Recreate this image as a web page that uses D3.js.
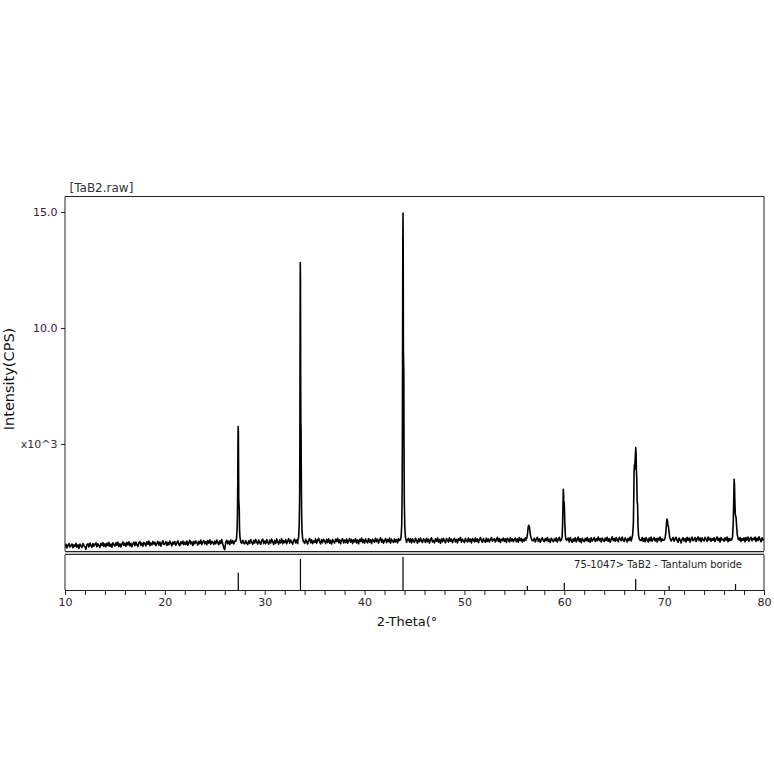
<!DOCTYPE html>
<html>
<head>
<meta charset="utf-8">
<script src="https://cdn.jsdelivr.net/npm/d3@7"></script>
<style>
  html, body { margin: 0; padding: 0; background: #fff; }
  svg { display: block; }
  text { font-family: "DejaVu Sans", sans-serif; }
</style>
</head>
<body>
<svg id="chart" width="774" height="774"></svg>
<script>
// ---------------- DATA ----------------
const scanTitle = "[TaB2.raw]";
const refLabel = "75-1047> TaB2 - Tantalum boride";
const xAxisTitle = "2-Theta(°";
const yAxisTitle = "Intensity(CPS)";

const scanStart = 10.0;   // degrees 2-theta
const scanStep = 0.1;     // degrees between baseline samples

// background counts (x10^3 CPS), one row per degree, 10.0 .. 80.0
const baselineCounts = [
  0.55,0.68,0.52,0.64,0.71,0.56,0.62,0.69,0.53,0.66,
  0.58,0.72,0.55,0.66,0.50,0.69,0.61,0.54,0.71,0.63,
  0.57,0.46,0.67,0.70,0.56,0.73,0.62,0.55,0.71,0.60,
  0.68,0.74,0.57,0.70,0.62,0.54,0.72,0.63,0.75,0.58,
  0.70,0.57,0.73,0.62,0.76,0.59,0.69,0.55,0.74,0.66,
  0.60,0.75,0.64,0.77,0.58,0.70,0.56,0.68,0.78,0.63,
  0.73,0.59,0.76,0.65,0.79,0.61,0.72,0.57,0.70,0.77,
  0.62,0.78,0.66,0.58,0.75,0.80,0.63,0.73,0.59,0.76,
  0.71,0.61,0.79,0.68,0.82,0.62,0.74,0.65,0.80,0.69,
  0.77,0.62,0.72,0.81,0.64,0.78,0.60,0.73,0.83,0.67,
  0.70,0.80,0.63,0.76,0.66,0.82,0.72,0.61,0.78,0.69,
  0.80,0.64,0.74,0.83,0.67,0.62,0.79,0.70,0.82,0.66,
  0.77,0.67,0.82,0.64,0.75,0.85,0.69,0.79,0.63,0.80,
  0.70,0.83,0.75,0.65,0.81,0.71,0.86,0.67,0.77,0.84,
  0.70,0.80,0.66,0.84,0.73,0.87,0.68,0.81,0.76,0.67,
  0.82,0.70,0.86,0.74,0.66,0.83,0.72,0.88,0.69,0.52,
  0.45,0.78,0.85,0.70,0.82,0.67,0.87,0.73,0.84,0.69,
  0.80,0.86,0.71,0.84,0.76,0.89,0.79,0.72,0.85,0.74,
  0.70,0.84,0.73,0.67,0.83,0.72,0.88,0.76,0.68,0.85,
  0.73,0.89,0.77,0.69,0.86,0.75,0.68,0.84,0.90,0.71,
  0.82,0.70,0.88,0.76,0.69,0.86,0.73,0.90,0.79,0.67,
  0.85,0.72,0.91,0.77,0.69,0.86,0.74,0.92,0.70,0.84,
  0.75,0.88,0.70,0.82,0.92,0.73,0.86,0.77,0.68,0.85,
  0.90,0.74,0.86,0.71,0.88,0.79,0.89,0.76,0.86,0.80,
  0.72,0.89,0.78,0.69,0.86,0.93,0.74,0.87,0.71,0.83,
  0.76,0.91,0.72,0.85,0.94,0.78,0.70,0.88,0.75,0.90,
  0.82,0.71,0.89,0.76,0.92,0.73,0.85,0.69,0.88,0.79,
  0.73,0.90,0.80,0.94,0.75,0.87,0.70,0.85,0.92,0.74,
  0.86,0.75,0.91,0.72,0.83,0.93,0.77,0.89,0.71,0.87,
  0.78,0.92,0.74,0.86,0.70,0.89,0.80,0.95,0.75,0.87,
  0.73,0.91,0.80,0.74,0.93,0.78,0.88,0.71,0.90,0.83,
  0.76,0.94,0.80,0.90,0.73,0.87,0.96,0.77,0.89,0.72,
  0.85,0.92,0.75,0.89,0.79,0.95,0.73,0.90,0.81,0.76,
  0.91,0.78,0.88,0.74,0.93,0.84,0.77,0.90,0.80,0.92,
  0.79,0.90,0.76,0.88,0.93,0.78,0.91,0.74,0.92,0.81,
  0.76,0.94,0.85,0.73,0.91,0.79,0.95,0.82,0.75,0.92,
  0.86,0.76,0.94,0.79,0.90,0.73,0.88,0.96,0.78,0.85,
  0.74,0.92,0.81,0.95,0.77,0.89,0.72,0.91,0.79,0.94,
  0.82,0.74,0.93,0.86,0.77,0.96,0.81,0.90,0.75,0.88,
  0.94,0.78,0.89,0.74,0.92,0.85,0.97,0.77,0.90,0.82,
  0.75,0.94,0.84,0.78,0.95,0.80,0.90,0.74,0.93,0.86,
  0.78,0.95,0.80,0.91,0.75,0.88,0.97,0.83,0.77,0.93,
  0.83,0.76,0.95,0.80,0.91,0.78,0.89,0.97,0.81,0.87,
  0.92,0.78,0.88,0.98,0.80,0.93,0.76,0.90,0.84,0.95,
  0.80,0.92,0.76,0.94,0.87,0.78,0.96,0.82,0.91,0.79,
  0.89,0.95,0.79,0.91,0.77,0.97,0.84,0.93,0.78,0.90,
  0.82,0.96,0.86,0.79,0.93,0.84,0.95,0.86,0.90,0.83,
  0.94,0.78,0.90,0.98,0.80,0.92,0.77,0.89,0.96,0.83,
  0.79,0.93,0.84,0.97,0.80,0.90,0.76,0.94,0.86,0.79,
  0.92,0.83,0.96,0.78,0.90,0.98,0.82,0.94,0.80,0.89,
  0.85,0.93,0.81,0.90,0.95,0.78,0.97,0.84,0.76,0.92,
  0.82,0.96,0.78,0.90,0.99,0.80,0.92,0.75,0.94,0.85,
  0.79,0.94,0.84,0.97,0.80,0.91,0.77,0.96,0.82,0.89,
  0.97,0.80,0.92,0.83,0.99,0.84,0.93,0.78,0.95,0.86,
  0.80,0.95,0.84,0.98,0.81,0.92,0.77,0.90,1.00,0.84,
  0.93,0.81,0.97,0.86,0.79,0.98,0.90,0.83,0.99,0.85,
  0.80,0.96,0.88,0.78,0.94,0.85,0.99,0.82,0.92,0.86,
  0.93,0.81,0.95,0.86,0.90,0.83,0.96,0.85,0.97,0.80,
  0.94,0.79,0.97,0.86,0.78,0.95,0.83,0.99,0.81,0.90,
  0.97,0.82,0.93,0.78,0.95,0.86,0.99,0.80,0.92,0.85,
  0.79,0.95,0.86,0.93,0.88,0.84,0.94,0.82,0.90,0.97,
  0.81,0.92,0.98,0.83,0.77,0.95,0.86,0.74,0.90,0.96,
  0.82,0.93,0.78,0.98,0.85,0.95,0.77,0.91,0.99,0.83,
  0.88,0.97,0.80,0.92,1.00,0.84,0.95,0.79,0.96,0.87,
  0.82,0.98,0.90,0.80,0.99,0.86,0.95,0.81,0.93,0.85,
  0.96,0.80,0.91,1.00,0.84,0.94,0.78,0.97,0.87,0.90,
  0.81,0.96,0.86,0.99,0.79,0.94,0.84,0.91,0.97,0.85,
  0.92,0.83,0.95,0.86,0.91,0.84,0.97,0.80,0.93,0.85,
  0.96,0.79,0.97,0.86,0.99,0.81,0.92,0.98,0.83,0.94,
  0.88,0.99,0.80,0.95,0.84,1.00,0.89,0.79,0.96,0.86,
  0.90
];

// diffraction peaks: [2-theta, counts x10^3]
const peak27 = [[27.12,0.82],[27.18,0.95],[27.23,1.25],[27.27,1.9],[27.30,3.2],[27.32,5.0],[27.34,5.75],[27.36,5.6],[27.38,4.2],[27.40,2.6],[27.42,2.45],[27.45,2.2],[27.48,1.3],[27.52,1.0],[27.57,0.86],[27.62,0.76]];
const peak33 = [[33.32,0.84],[33.40,1.0],[33.46,1.6],[33.50,2.8],[33.52,5.0],[33.54,9.0],[33.56,12.82],[33.58,12.2],[33.60,8.0],[33.62,5.9],[33.64,5.7],[33.66,4.0],[33.69,2.2],[33.73,1.3],[33.79,0.95],[33.87,0.80]];
const peak43 = [[43.58,0.86],[43.66,1.0],[43.72,1.5],[43.76,2.8],[43.79,5.5],[43.81,10.0],[43.83,13.75],[43.85,14.96],[43.87,13.0],[43.89,9.0],[43.91,8.6],[43.93,8.2],[43.95,5.0],[43.98,2.5],[44.03,1.4],[44.09,1.0],[44.17,0.84]];
const peak56 = [[56.15,0.86],[56.25,0.95],[56.32,1.15],[56.38,1.4],[56.44,1.5],[56.50,1.45],[56.56,1.25],[56.62,1.05],[56.70,0.92],[56.80,0.84]];
const peak60 = [[59.70,0.86],[59.78,1.0],[59.83,1.5],[59.87,2.4],[59.90,3.05],[59.92,2.9],[59.95,2.55],[59.98,2.5],[60.01,2.3],[60.05,1.6],[60.10,1.1],[60.16,0.9],[60.25,0.85]];
const peak67 = [[66.75,0.9],[66.85,1.1],[66.92,1.6],[66.96,2.8],[66.99,3.8],[67.02,4.1],[67.05,3.9],[67.08,4.2],[67.12,4.5],[67.16,4.85],[67.19,4.6],[67.22,3.9],[67.26,3.5],[67.30,2.5],[67.34,2.4],[67.38,1.5],[67.44,1.05],[67.52,0.9],[67.60,0.85]];
const peak70 = [[70.00,0.86],[70.10,0.95],[70.17,1.2],[70.23,1.55],[70.29,1.77],[70.33,1.7],[70.38,1.5],[70.43,1.45],[70.49,1.2],[70.57,0.95],[70.67,0.86]];
const peak77 = [[76.75,0.86],[76.85,1.0],[76.92,1.6],[76.97,2.6],[77.01,3.48],[77.04,3.3],[77.08,2.6],[77.12,2.0],[77.16,1.9],[77.20,1.85],[77.25,1.5],[77.32,1.1],[77.42,0.9],[77.50,0.86]];

// reference pattern 75-1047 TaB2 (relative intensity, %)
const refTheta = [27.35, 33.58, 43.85, 56.3, 60.0, 67.15, 70.5, 77.15];
const refIntensity = [52, 94, 100, 12, 21, 33, 12, 18];

// axis ticks
const xTickValues = [10,12,14,16,18,20,22,24,26,28,30,32,34,36,38,40,42,44,46,48,50,52,54,56,58,60,62,64,66,68,70,72,74,76,78,80];
const xTickLabels = {10:"10",20:"20",30:"30",40:"40",50:"50",60:"60",70:"70",80:"80"};
const yTickValues = [5, 10, 15];
const yTickLabels = ["x10^3", "10.0", "15.0"];

// ---------------- BUILD SERIES ----------------
const peaks = [peak27, peak33, peak43, peak56, peak60, peak67, peak70, peak77];
const windows = peaks.map(p => [p[0][0], p[p.length - 1][0]]);
let scan = [];
baselineCounts.forEach((v, i) => {
  const x = +(scanStart + i * scanStep).toFixed(2);
  if (!windows.some(w => x >= w[0] && x <= w[1])) scan.push([x, v]);
});
peaks.forEach(p => p.forEach(d => scan.push(d)));
scan.sort((a, b) => a[0] - b[0]);

// ---------------- LAYOUT ----------------
const L = 65, R = 764, T = 196.5, B = 551;   // main panel
const sepB = 555, axisY = 590;                // separator / reference panel

const svg = d3.select("#chart");
svg.append("rect").attr("width", 774).attr("height", 774).attr("fill", "#fff");

const x = d3.scaleLinear().domain([10, 80]).range([L, R]);
const y = d3.scaleLinear().domain([0.39, 15.67]).range([B, T]);
const yRef = d3.scaleLinear().domain([0, 100]).range([axisY, sepB + 2]);

// clip for data
svg.append("clipPath").attr("id", "clipMain")
  .append("rect").attr("x", L).attr("y", T).attr("width", R - L).attr("height", B - T);

// scan line
svg.append("path")
  .datum(scan)
  .attr("clip-path", "url(#clipMain)")
  .attr("fill", "none")
  .attr("stroke", "#000")
  .attr("stroke-width", 1.6)
  .attr("stroke-linejoin", "round")
  .attr("d", d3.line().x(d => x(d[0])).y(d => y(d[1])));

// main frame
svg.append("path")
  .attr("d", `M${L},${B}V${T}H${R}V${B}`)
  .attr("fill", "none").attr("stroke", "#222").attr("stroke-width", 1);

// separator band
svg.append("rect").attr("x", L).attr("y", B).attr("width", R - L).attr("height", sepB - B)
  .attr("fill", "#c4c4c4");
svg.append("line").attr("x1", L).attr("x2", R).attr("y1", B + 0.5).attr("y2", B + 0.5)
  .attr("stroke", "#222");
svg.append("line").attr("x1", L).attr("x2", R).attr("y1", sepB - 0.5).attr("y2", sepB - 0.5)
  .attr("stroke", "#333");

// reference panel borders
svg.append("path")
  .attr("d", `M${L},${sepB}V${axisY}M${R},${sepB}V${axisY}`)
  .attr("fill", "none").attr("stroke", "#222");

// reference sticks
svg.append("g").selectAll("line")
  .data(refTheta.map((t, i) => [t, refIntensity[i]]))
  .join("line")
  .attr("x1", d => x(d[0])).attr("x2", d => x(d[0]))
  .attr("y1", yRef(0)).attr("y2", d => yRef(d[1]))
  .attr("stroke", "#000").attr("stroke-width", 1.2);

svg.append("text")
  .attr("x", 742).attr("y", 567.5)
  .attr("text-anchor", "end")
  .attr("font-size", 10)
  .attr("fill", "#222")
  .text(refLabel);

// x axis
const xAxis = d3.axisBottom(x)
  .tickValues(xTickValues)
  .tickSize(5)
  .tickSizeOuter(0)
  .tickPadding(3.2)
  .tickFormat(d => xTickLabels[d] || "");
const gx = svg.append("g").attr("transform", `translate(0,${axisY})`).call(xAxis);
gx.select(".domain").attr("stroke", "#222");
gx.selectAll(".tick line").attr("stroke", "#222");
gx.selectAll("text").attr("font-family", "DejaVu Sans, sans-serif").attr("font-size", 11).attr("fill", "#2a1a2a");

// y axis
const yAxis = d3.axisLeft(y)
  .tickValues(yTickValues)
  .tickSize(4)
  .tickSizeOuter(0)
  .tickPadding(3.5)
  .tickFormat((d, i) => yTickLabels[i]);
const gy = svg.append("g").attr("transform", `translate(${L},0)`).call(yAxis);
gy.select(".domain").remove();
gy.selectAll(".tick line").attr("stroke", "#222");
gy.selectAll("text").attr("font-family", "DejaVu Sans, sans-serif").attr("font-size", 11)
  .attr("fill", (d, i) => i === 0 ? "#333" : "#3a1a3a");

// axis titles
svg.append("text")
  .attr("x", 407).attr("y", 625.5)
  .attr("text-anchor", "middle")
  .attr("font-size", 13)
  .attr("fill", "#111")
  .text(xAxisTitle);

svg.append("text")
  .attr("transform", "translate(13.5,379) rotate(-90)")
  .attr("text-anchor", "middle")
  .attr("font-size", 14.5)
  .attr("fill", "#111")
  .text(yAxisTitle);

// scan title
svg.append("text")
  .attr("x", 69.5).attr("y", 192)
  .attr("font-size", 12)
  .attr("fill", "#333")
  .text(scanTitle);
</script>
</body>
</html>
